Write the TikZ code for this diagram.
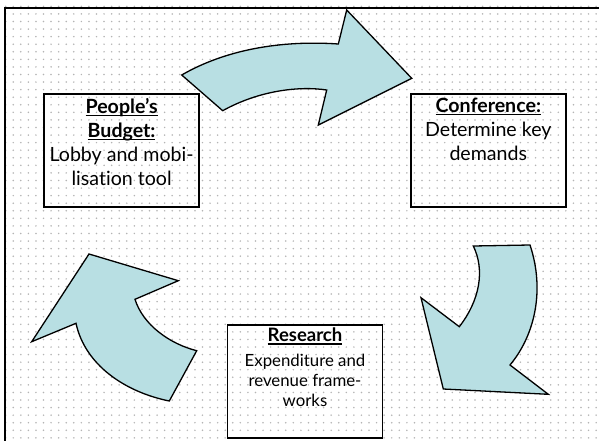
\documentclass[tikz,border=0pt]{standalone}
\usepackage{fontspec}
\setmainfont{Lato}[Ligatures={NoCommon}]
% underline at a fixed distance below the baseline
\newcommand\ulword[1]{\setbox0\hbox{#1}\leavevmode\rlap{\vrule height -1.6pt depth 3.1pt width \wd0}\box0}
\begin{document}
\begin{tikzpicture}[x=1pt,y=-1pt,
  frame/.style={line width=2.2pt, draw=black},
  cyclebox/.style={draw=black, line width=1.4pt, rectangle, inner sep=0pt},
  boxtext/.style={align=center, inner sep=0pt, font=\fontsize{19.6}{24}\selectfont},
  smalltext/.style={align=center, inner sep=0pt, font=\fontsize{16.8}{20.3}\selectfont},
  cyclearrow/.style={fill=arrowfill, draw=black, line width=1.3pt, line join=miter}]
\definecolor{arrowfill}{RGB}{184,223,227}
\definecolor{dotgray}{RGB}{180,180,180}
\useasboundingbox (0,0) rectangle (599,441);
\fill[white] (0,0) rectangle (599,441);
% dotted grid background
\foreach \i in {0,...,79}{
  \foreach \j in {0,...,58}{
    \fill[dotgray] ({-1.9+7.57*\i},{-1.2+7.57*\j}) circle (0.85);
  }
}
% slide frame (left and top edges visible)
\draw[frame] (5,450) -- (5,8) -- (610,8);

% curved arrow: People's Budget -> Conference
\draw[cyclearrow] (181.7,75)
  .. controls (225,50) and (280,40) .. (338.3,44)
  -- (346.7,10) -- (411.7,78.3) -- (318.3,125) -- (326.7,90)
  .. controls (300,86) and (260,90) .. (222.7,110.7) -- cycle;

% curved arrow: Conference -> Research
\draw[cyclearrow] (473.3,246) -- (530,245)
  .. controls (545,290) and (535,335) .. (510,365)
  -- (548.3,394.3) -- (443.3,389) -- (421,297.7) -- (459.3,326.7)
  .. controls (480,300) and (485,270) .. cycle;

% curved arrow: Research -> People's Budget
\draw[cyclearrow] (169.3,401) -- (196.7,350.7)
  .. controls (170,344) and (143,325) .. (135,299.3)
  -- (178.3,280.7) -- (89,254) -- (31.7,341.7) -- (76,323.3)
  .. controls (85,365) and (125,392) .. cycle;

% stage boxes
\node[cyclebox, minimum width=155pt, minimum height=113pt] (budget) at (121.6,150.4) {};
\node[boxtext, anchor=north] (budgettext) at ([yshift=-4.5pt]budget.north)
  {\textbf{\ulword{People’s}}\\ \textbf{\ulword{Budget:}}\\ Lobby and mobi-\\ lisation tool};

\node[cyclebox, minimum width=155pt, minimum height=113pt] (conf) at (488.3,150.4) {};
\node[boxtext, anchor=north] (conftext) at ([yshift=-4.5pt]conf.north)
  {\textbf{\ulword{Conference:}}\\ Determine key\\ demands};

\node[cyclebox, minimum width=154.5pt, minimum height=113pt] (research) at (305,381.5) {};
\node[smalltext, anchor=north] (researchtext) at ([yshift=-3.5pt]research.north)
  {{\fontsize{18.5}{24}\selectfont\textbf{\ulword{Research}}}\\[4pt] Expenditure and\\ revenue frame-\\ works};
\end{tikzpicture}
\end{document}
